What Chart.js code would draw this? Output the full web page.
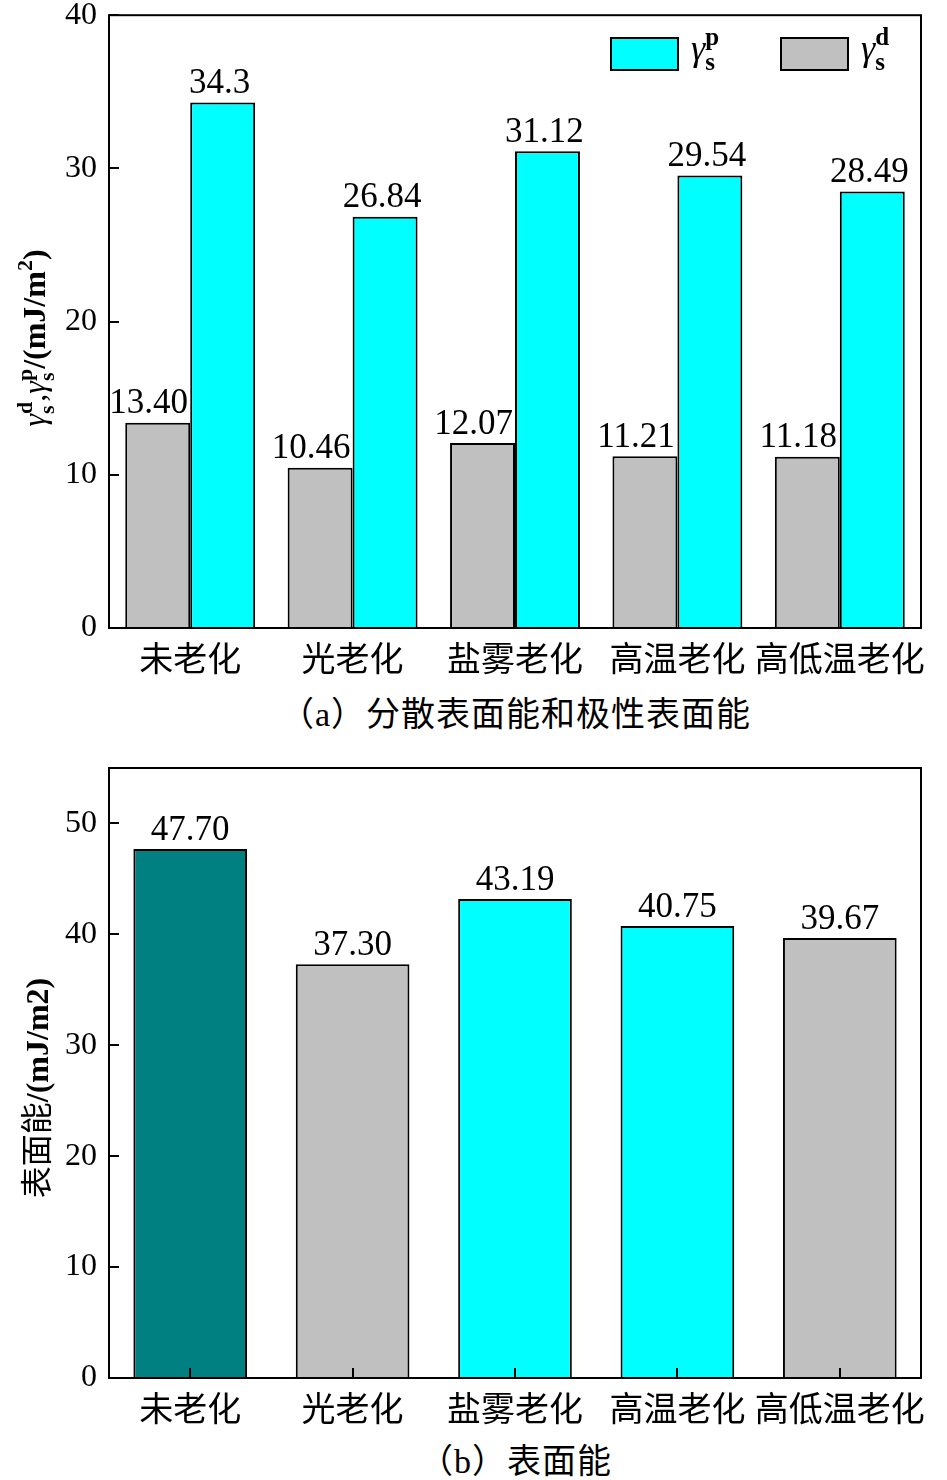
<!DOCTYPE html>
<html>
<head>
<meta charset="utf-8">
<script src="https://cdn.jsdelivr.net/npm/chart.js@4.4.1/dist/chart.umd.min.js"></script>
<style>
  body { margin: 0; background: #fff; width: 947px; height: 1480px; position: relative; overflow: hidden; }
  .box { position: absolute; left: 0; width: 947px; height: 690px; }
  .cap { position: absolute; left: 42px; width: 947px; text-align: center; color: #000;
         font: 34px "Liberation Serif", "Noto Sans CJK SC"; line-height: 40px; letter-spacing: 1px; }
</style>
</head>
<body>
<div class="box" style="top:0"><canvas id="chartA"></canvas></div>
<div class="cap" style="top:695px">（a）分散表面能和极性表面能</div>
<div class="box" style="top:740px"><canvas id="chartB"></canvas></div>
<div class="cap" style="top:1442px">（b）表面能</div>
<script>
// data
var categories = ['未老化', '光老化', '盐雾老化', '高温老化', '高低温老化'];
var dispersive = [13.40, 10.46, 12.07, 11.21, 11.18];
var polar = [34.3, 26.84, 31.12, 29.54, 28.49];
var dispersiveLabels = ['13.40', '10.46', '12.07', '11.21', '11.18'];
var polarLabels = ['34.3', '26.84', '31.12', '29.54', '28.49'];
var total = [47.70, 37.30, 43.19, 40.75, 39.67];
var totalLabels = ['47.70', '37.30', '43.19', '40.75', '39.67'];
var ticksA = [0, 10, 20, 30, 40];
var ticksB = [0, 10, 20, 30, 40, 50];

var SERIF = '"Liberation Serif", "Noto Sans CJK SC"';

// draws text with sub/superscripts, parts: {t} or {sub, sup}
function richText(ctx, parts, x, y, size, align) {
    var small = Math.round(size * 0.7);
    var fontOf = function(p, sz) {
        return (p.it ? 'italic ' : '') + (p.b ? 'bold ' : '') + sz + 'px ' + SERIF;
    };
    var widths = parts.map(function(p) {
        if (p.t) { ctx.font = fontOf(p, size); return ctx.measureText(p.t).width; }
        ctx.font = fontOf(p, small);
        return Math.max(p.sub ? ctx.measureText(p.sub).width : 0, p.sup ? ctx.measureText(p.sup).width : 0);
    });
    var w = widths.reduce(function(a, b) { return a + b; }, 0);
    var cx = align == 'center' ? x - w / 2 : x;
    ctx.textAlign = 'left';
    ctx.textBaseline = 'alphabetic';
    ctx.fillStyle = '#000';
    parts.forEach(function(p, i) {
        if (p.t) {
            ctx.font = fontOf(p, size);
            ctx.fillText(p.t, cx, y);
        } else {
            ctx.font = fontOf(p, small);
            if (p.sub) ctx.fillText(p.sub, cx, y + small * 0.4);
            if (p.sup) ctx.fillText(p.sup, cx, y - size * 0.42);
        }
        cx += widths[i];
    });
}

var framePlugin = {
    id: 'frame',
    afterDatasetsDraw: function(chart) {
        var ctx = chart.ctx, a = chart.chartArea;
        var o = chart.options.plugins.frame || {};
        ctx.save();
        ctx.strokeStyle = '#000';
        ctx.lineWidth = 2;
        ctx.strokeRect(a.left, a.top, a.right - a.left, a.bottom - a.top);
        // inward ticks
        var y = chart.scales.y;
        y.ticks.forEach(function(t) {
            var py = Math.round(y.getPixelForValue(t.value));
            ctx.beginPath(); ctx.moveTo(a.left, py); ctx.lineTo(a.left + 10, py); ctx.stroke();
        });
        if (o.xTicks) {
            var x = chart.scales.x;
            categories.forEach(function(c, i) {
                var px = Math.round(x.getPixelForValue(i));
                ctx.beginPath(); ctx.moveTo(px, a.bottom); ctx.lineTo(px, a.bottom - 10); ctx.stroke();
            });
        }
        // value labels
        ctx.fillStyle = '#000';
        ctx.font = '35px ' + SERIF;
        ctx.textAlign = 'center';
        ctx.textBaseline = 'bottom';
        chart.data.datasets.forEach(function(ds, di) {
            var shift = ds.labelShift || 0;
            chart.getDatasetMeta(di).data.forEach(function(bar, i) {
                ctx.fillText(ds.valueLabels[i], bar.x + shift, bar.y - 1);
            });
        });
        // rotated axis title
        if (o.title) {
            ctx.translate(o.title.x, o.title.y);
            ctx.rotate(-Math.PI / 2);
            richText(ctx, o.title.parts, 0, 0, 32, 'center');
            ctx.setTransform(1, 0, 0, 1, 0, 0);
        }
        // legend
        if (o.legend) {
            o.legend.forEach(function(l) {
                var ds = chart.data.datasets[l.ds];
                ctx.fillStyle = ds.backgroundColor;
                ctx.fillRect(l.x, 38, 67, 32);
                ctx.strokeRect(l.x, 38, 67, 32);
                richText(ctx, [{t: 'γ', it: true}, {sub: 's', sup: l.sup, b: true}], l.x + 80, 60, 36, 'left');
            });
        }
        ctx.restore();
    }
};

function yAxis(max, list, w) {
    return {
        min: 0, max: max,
        grid: { display: false }, border: { display: false },
        afterBuildTicks: function(s) { s.ticks = list.map(function(v) { return { value: v }; }); },
        afterFit: function(s) { s.width = w; },
        ticks: { color: '#000', padding: 4, font: { family: SERIF, size: 32, lineHeight: 0.7 } }
    };
}
function xAxis(h) {
    return {
        grid: { display: false }, border: { display: false },
        afterFit: function(s) { s.height = h; },
        ticks: { color: '#000', padding: 2, autoSkip: false, maxRotation: 0,
                 font: { family: '"Noto Sans CJK SC"', size: 34 } }
    };
}

new Chart(document.getElementById('chartA'), {
    type: 'bar',
    data: {
        labels: categories,
        datasets: [
            { label: 'γsd', data: dispersive, valueLabels: dispersiveLabels, labelShift: -9,
              backgroundColor: '#c0c0c0', borderColor: '#000', borderWidth: 2 },
            { label: 'γsp', data: polar, valueLabels: polarLabels, labelShift: -3,
              backgroundColor: '#00ffff', borderColor: '#000', borderWidth: 2 }
        ]
    },
    options: {
        responsive: true, maintainAspectRatio: false, animation: false,
        layout: { padding: { top: 0, right: 26, left: 0, bottom: 0 } },
        datasets: { bar: { categoryPercentage: 0.8, barPercentage: 1.0 } },
        scales: { x: xAxis(62), y: yAxis(40, ticksA, 109) },
        plugins: {
            legend: { display: false }, tooltip: { enabled: false },
            frame: {
                title: { x: 45, y: 338, parts: [
                    {t: 'γ', it: true}, {sub: 's', sup: 'd', b: true}, {t: ','},
                    {t: 'γ', it: true}, {sub: 's', sup: 'p', b: true},
                    {t: '/(mJ/m', b: true}, {sup: '2', b: true}, {t: ')', b: true}
                ] },
                legend: [ { ds: 1, x: 611, sup: 'p' }, { ds: 0, x: 781, sup: 'd' } ]
            }
        }
    },
    plugins: [framePlugin]
});

new Chart(document.getElementById('chartB'), {
    type: 'bar',
    data: {
        labels: categories,
        datasets: [
            { label: '表面能', data: total, valueLabels: totalLabels,
              backgroundColor: ['#008080', '#c0c0c0', '#00ffff', '#00ffff', '#c0c0c0'],
              borderColor: '#000', borderWidth: 2 }
        ]
    },
    options: {
        responsive: true, maintainAspectRatio: false, animation: false,
        layout: { padding: { top: 28, right: 26, left: 0, bottom: 0 } },
        datasets: { bar: { categoryPercentage: 1.0, barPercentage: 0.7 } },
        scales: { x: xAxis(52), y: yAxis(55, ticksB, 109) },
        plugins: {
            legend: { display: false }, tooltip: { enabled: false },
            frame: {
                xTicks: true,
                title: { x: 48, y: 348, parts: [ {t: '表面能'}, {t: '/(mJ/m2)', b: true} ] }
            }
        }
    },
    plugins: [framePlugin]
});
</script>
</body>
</html>
